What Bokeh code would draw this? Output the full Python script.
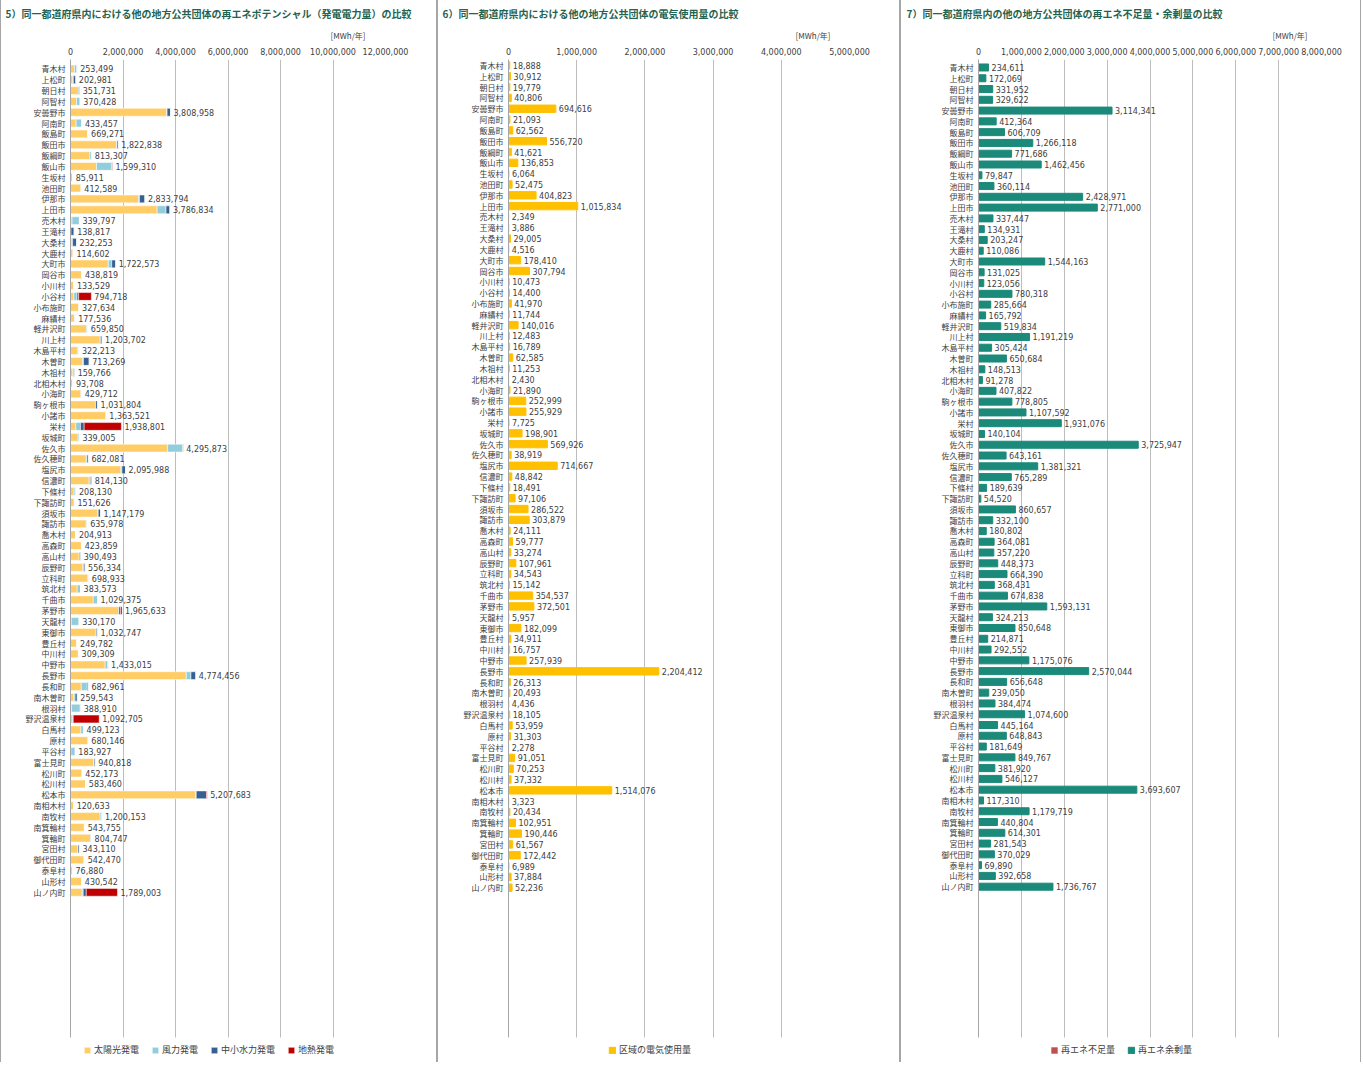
from bokeh.plotting import figure
from bokeh.models import (ColumnDataSource, Range1d, FixedTicker, NumeralTickFormatter,
                          Legend, LegendItem, Title, BoxAnnotation)
from bokeh.layouts import row
from bokeh.core.properties import value
from bokeh.embed import file_html
from bokeh.resources import INLINE

# ---------------- data ----------------
names = ["青木村", "上松町", "朝日村", "阿智村", "安曇野市", "阿南町", "飯島町", "飯田市", "飯綱町", "飯山市",
         "生坂村", "池田町", "伊那市", "上田市", "売木村", "王滝村", "大桑村", "大鹿村", "大町市", "岡谷市",
         "小川村", "小谷村", "小布施町", "麻績村", "軽井沢町", "川上村", "木島平村", "木曽町", "木祖村", "北相木村",
         "小海町", "駒ヶ根市", "小諸市", "栄村", "坂城町", "佐久市", "佐久穂町", "塩尻市", "信濃町", "下條村",
         "下諏訪町", "須坂市", "諏訪市", "喬木村", "高森町", "高山村", "辰野町", "立科町", "筑北村", "千曲市",
         "茅野市", "天龍村", "東御市", "豊丘村", "中川村", "中野市", "長野市", "長和町", "南木曽町", "根羽村",
         "野沢温泉村", "白馬村", "原村", "平谷村", "富士見町", "松川町", "松川村", "松本市", "南相木村", "南牧村",
         "南箕輪村", "箕輪町", "宮田村", "御代田町", "泰阜村", "山形村", "山ノ内町"]

# 5) potential (MWh/year) - labelled totals
potential_total = [253499, 202981, 351731, 370428, 3808958, 433457, 669271, 1822838, 813307, 1599310,
                   85911, 412589, 2833794, 3786834, 339797, 138817, 232253, 114602, 1722573, 438819,
                   133529, 794718, 327634, 177536, 659850, 1203702, 322213, 713269, 159766, 93708,
                   429712, 1031804, 1363521, 1938801, 339005, 4295873, 682081, 2095988, 814130, 208130,
                   151626, 1147179, 635978, 204913, 423859, 390493, 556334, 698933, 383573, 1029375,
                   1965633, 330170, 1032747, 249782, 309309, 1433015, 4774456, 682961, 259543, 388910,
                   1092705, 499123, 680146, 183927, 940818, 452173, 583460, 5207683, 120633, 1200153,
                   543755, 804747, 343110, 542470, 76880, 430542, 1789003]

solar = [150000, 90000, 300000, 230000, 3670000, 215000, 655000, 1750000, 740000, 990000,
         83000, 400000, 2590000, 3300000, 60000, 20000, 50000, 90000, 1440000, 430000,
         125000, 125000, 320000, 150000, 610000, 1130000, 280000, 457000, 90000, 85000,
         395000, 950000, 1350000, 200000, 290000, 3700000, 600000, 1920000, 710000, 140000,
         140000, 1050000, 600000, 200000, 415000, 330000, 470000, 660000, 255000, 865000,
         1830000, 30000, 980000, 245000, 300000, 1320000, 4410000, 410000, 125000, 40000,
         75000, 395000, 670000, 15000, 890000, 440000, 570000, 4760000, 115000, 1130000,
         525000, 760000, 290000, 495000, 70000, 420000, 445000]

wind = [100000, 20000, 10000, 140000, 10000, 218000, 14000, 20000, 70000, 570000,
        3000, 12000, 40000, 340000, 280000, 0, 30000, 25000, 130000, 9000,
        8500, 125000, 7600, 27500, 50000, 13000, 42000, 40000, 30000, 8700,
        35000, 10000, 13500, 180000, 49000, 570000, 25000, 40000, 50000, 68000,
        11600, 7000, 36000, 5000, 8900, 10000, 30000, 39000, 128500, 164000,
        10000, 300000, 3000, 4800, 9300, 90000, 180000, 230000, 50000, 330000,
        10000, 100000, 10000, 169000, 6000, 12000, 13500, 30000, 5600, 70000,
        19000, 45000, 0, 47000, 6900, 10500, 40000]

hydro = [3500, 93000, 42000, 0, 129000, 0, 0, 53000, 3000, 20000,
         0, 0, 204000, 147000, 0, 119000, 152000, 0, 153000, 0,
         0, 60000, 0, 0, 0, 60000, 0, 216000, 40000, 0,
         0, 72000, 0, 140000, 0, 20000, 57000, 136000, 54000, 0,
         0, 90000, 0, 0, 0, 50000, 56000, 0, 0, 0,
         65000, 0, 50000, 0, 0, 23000, 184000, 43000, 85000, 19000,
         20000, 4000, 0, 0, 45000, 0, 0, 390000, 0, 0,
         0, 0, 53000, 0, 0, 0, 115000]

geothermal = [0, 0, 0, 0, 0, 0, 0, 0, 0, 19000,
              0, 0, 0, 0, 0, 0, 0, 0, 0, 0,
              0, 485000, 0, 0, 0, 0, 0, 0, 0, 0,
              0, 0, 0, 1419000, 0, 6000, 0, 0, 0, 0,
              0, 0, 0, 0, 0, 0, 0, 0, 0, 0,
              60000, 0, 0, 0, 0, 0, 0, 0, 0, 0,
              988000, 0, 0, 0, 0, 0, 0, 28000, 0, 0,
              0, 0, 0, 0, 0, 0, 1189000]

# 6) electricity use (MWh/year)
usage = [18888, 30912, 19779, 40806, 694616, 21093, 62562, 556720, 41621, 136853,
         6064, 52475, 404823, 1015834, 2349, 3886, 29005, 4516, 178410, 307794,
         10473, 14400, 41970, 11744, 140016, 12483, 16789, 62585, 11253, 2430,
         21890, 252999, 255929, 7725, 198901, 569926, 38919, 714667, 48842, 18491,
         97106, 286522, 303879, 24111, 59777, 33274, 107961, 34543, 15142, 354537,
         372501, 5957, 182099, 34911, 16757, 257939, 2204412, 26313, 20493, 4436,
         18105, 53959, 31303, 2278, 91051, 70253, 37332, 1514076, 3323, 20434,
         102951, 190446, 61567, 172442, 6989, 37884, 52236]

# 7) surplus / deficit (MWh/year)
surplus = [234611, 172069, 331952, 329622, 3114341, 412364, 606709, 1266118, 771686, 1462456,
           79847, 360114, 2428971, 2771000, 337447, 134931, 203247, 110086, 1544163, 131025,
           123056, 780318, 285664, 165792, 519834, 1191219, 305424, 650684, 148513, 91278,
           407822, 778805, 1107592, 1931076, 140104, 3725947, 643161, 1381321, 765289, 189639,
           54520, 860657, 332100, 180802, 364081, 357220, 448373, 664390, 368431, 674838,
           1593131, 324213, 850648, 214871, 292552, 1175076, 2570044, 656648, 239050, 384474,
           1074600, 445164, 648843, 181649, 849767, 381920, 546127, 3693607, 117310, 1179719,
           440804, 614301, 281543, 370029, 69890, 392658, 1736767]
deficit = [0] * 77

ticks_potential = [0, 2000000, 4000000, 6000000, 8000000, 10000000, 12000000]
ticks_usage = [0, 1000000, 2000000, 3000000, 4000000, 5000000]
ticks_balance = [0, 1000000, 2000000, 3000000, 4000000, 5000000, 6000000, 7000000, 8000000]

pot_series = ["太陽光発電", "風力発電", "中小水力発電", "地熱発電"]

# ---------------- styling ----------------
JP = "Noto Sans CJK JP"
NUM = "DejaVu Sans"
TXT = "#404040"
TITLE_C = "#1f6350"
GRID_C = "#bdbdbd"
FIG_H = 1062
FRAME_H = 1004     # frame from 58 px to bottom
PLOT_H = 979       # gridded part of the frame


def base_fig(width, xmax, ticks, mbl, mbr, ytop, spacing, title, toff, uoff):
    ybot = ytop + FRAME_H / spacing
    ycut = ytop + PLOT_H / spacing
    p = figure(width=width, height=FIG_H, x_range=Range1d(0, xmax), y_range=Range1d(ybot, ytop),
               x_axis_location="above", output_backend="svg", toolbar_location=None,
               min_border_left=mbl, min_border_right=mbr, min_border_top=58, min_border_bottom=0,
               title=None)
    p.border_fill_color = None
    p.outline_line_color = None
    p.styles = {"box-shadow": "inset 1px 0 0 #a6a6a6, inset -1px 0 0 #a6a6a6"}
    xa = p.xaxis[0]
    xa.ticker = FixedTicker(ticks=ticks)
    xa.formatter = NumeralTickFormatter(format="0,0")
    xa.axis_line_color = None
    xa.major_tick_line_color = None
    xa.minor_tick_line_color = None
    xa.major_tick_out = 0
    xa.major_tick_in = 0
    xa.minor_tick_out = 0
    xa.major_label_text_font = NUM
    xa.major_label_text_font_size = "8px"
    xa.major_label_text_color = TXT
    xa.major_label_text_line_height = 1.0
    xa.major_label_standoff = 5
    ya = p.yaxis[0]
    ya.ticker = FixedTicker(ticks=list(range(len(names))))
    ya.major_label_overrides = {i: n for i, n in enumerate(names)}
    ya.bounds = (ytop, ycut)
    ya.axis_line_color = "#a6a6a6"
    ya.major_tick_line_color = None
    ya.minor_tick_line_color = None
    ya.major_tick_out = 0
    ya.major_tick_in = 0
    ya.minor_tick_out = 0
    ya.major_label_text_font = JP
    ya.major_label_text_font_size = "8px"
    ya.major_label_text_color = TXT
    ya.major_label_standoff = 5
    p.ygrid.grid_line_color = None
    p.xgrid.ticker = FixedTicker(ticks=ticks)
    p.xgrid.grid_line_color = GRID_C
    p.xgrid.grid_line_width = 1
    p.add_layout(BoxAnnotation(top=ycut, bottom=ybot + 5, fill_color="white", fill_alpha=1,
                               line_color=None))
    unit = Title(text="[MWh/年]", align="right", offset=uoff, text_font=JP, text_font_size="8px",
                 text_color=TXT, text_font_style="normal", standoff=8)
    p.add_layout(unit, "above")
    main = Title(text=title, align="left", offset=toff, text_font=JP, text_font_size="10px",
                 text_color=TITLE_C, text_font_style="bold", standoff=6)
    p.add_layout(main, "above")
    return p


def add_legend(p, items, xloc):
    lg = Legend(items=items, orientation="horizontal", location=(xloc, 6),
                label_text_font=JP, label_text_font_size="9px", label_text_color=TXT,
                glyph_width=8, glyph_height=8, label_height=12, padding=2, margin=0,
                spacing=12, label_standoff=3, border_line_color=None, background_fill_alpha=0)
    p.add_layout(lg, "center")


ypos = list(range(len(names)))

# ---- panel 5 ----
src1 = ColumnDataSource(dict(y=ypos, solar=solar, wind=wind, hydro=hydro, geo=geothermal,
                             total=potential_total, label=[f"{v:,}" for v in potential_total]))
p1 = base_fig(437, 12000000, ticks_potential, 70, 52, -0.87, 10.845,
              "5）同一都道府県内における他の地方公共団体の再エネポテンシャル（発電電力量）の比較", -65, 20)
rs = p1.hbar_stack(["solar", "wind", "hydro", "geo"], y="y", height=0.72,
                   color=["#ffcc66", "#92cddc", "#366092", "#c00000"],
                   line_color="white", line_width=0.5, source=src1)
p1.text(x="total", y="y", text="label", source=src1, x_offset=3, text_baseline="middle",
        text_font=value(NUM), text_font_size="8px", text_color=TXT)
add_legend(p1, [LegendItem(label=s, renderers=[r]) for s, r in zip(pot_series, rs)], 13)

# ---- panel 6 ----
src2 = ColumnDataSource(dict(y=ypos, usage=usage, label=[f"{v:,}" for v in usage]))
p2 = base_fig(463, 5000000, ticks_usage, 71, 51, -0.55, 10.83,
              "6）同一都道府県内における他の地方公共団体の電気使用量の比較", -66, 19)
r2 = p2.hbar(y="y", left=0, right="usage", height=0.68, color="#ffc000", source=src2)
p2.text(x="usage", y="y", text="label", source=src2, x_offset=3, text_baseline="middle",
        text_font=value(NUM), text_font_size="8px", text_color=TXT)
add_legend(p2, [LegendItem(label="区域の電気使用量", renderers=[r2])], 100)

# ---- panel 7 ----
src3 = ColumnDataSource(dict(y=ypos, surplus=surplus, deficit=deficit,
                             label=[f"{v:,}" for v in surplus]))
p3 = base_fig(461, 8000000, ticks_balance, 78, 40, -0.74, 10.79,
              "7）同一都道府県内の他の地方公共団体の再エネ不足量・余剰量の比較", -72, 14)
r3a = p3.hbar(y="y", left=0, right="deficit", height=0.65, fill_color="#c0504d",
              line_color=None, source=src3)
r3b = p3.hbar(y="y", left=0, right="surplus", height=0.65, color="#1b8a7a", source=src3)
p3.text(x="surplus", y="y", text="label", source=src3, x_offset=3, text_baseline="middle",
        text_font=value(NUM), text_font_size="8px", text_color=TXT)
add_legend(p3, [LegendItem(label="再エネ不足量", renderers=[r3a]),
                LegendItem(label="再エネ余剰量", renderers=[r3b])], 72)

layout = row(p1, p2, p3, spacing=0)
open("out.html", "w").write(file_html(layout, INLINE))
